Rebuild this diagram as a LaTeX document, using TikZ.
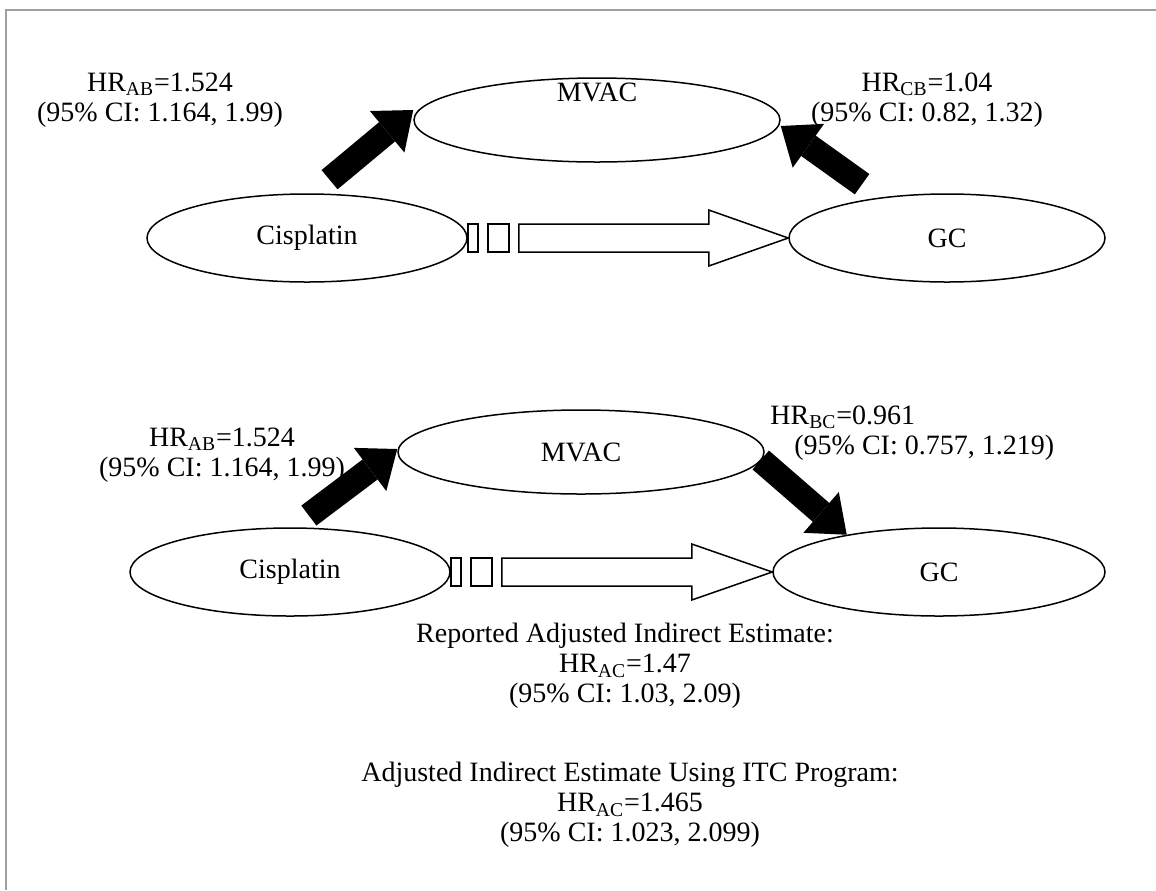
\documentclass[tikz,border=0pt]{standalone}
\usepackage{fontspec}
\setmainfont{Liberation Serif}
\usetikzlibrary{arrows.meta, shapes.geometric, positioning, backgrounds}
\definecolor{itFrame}{HTML}{A0A0A0}
\tikzset{
  txt/.style={font=\fontsize{14pt}{15pt}\selectfont},
  drug/.style={draw, ellipse, fill=white, line width=0.75pt, inner sep=0pt, txt},
  cisbox/.style={drug, minimum width=160pt, minimum height=44pt},
  mvacbox/.style={drug, minimum width=183pt, minimum height=42pt},
  gcbox/.style={drug, minimum width=158pt, minimum height=44pt},
  hrtag/.style={txt, align=center, inner sep=1pt},
  effect/.style={line width=12.5pt, -{Triangle[width=27pt, length=17pt, line width=0pt]}},
  itc/.style={draw, fill=white, line width=0.75pt, line join=miter}
}
% hollow arrow of the indirect comparison
\newcommand{\itcarrow}[2]{%
  \begin{scope}[shift={(#1.east)}]
    \draw[itc] (0,-14) rectangle (10,14) (20,-14) rectangle (41,14);
    \draw[itc] (51,-14) -- (241,-14) -- (241,-28) -- (#2.west) -- (241,28) -- (241,14) -- (51,14) -- cycle;
  \end{scope}}
\begin{document}
\begin{tikzpicture}[x=0.5pt, y=-0.5pt]
  \useasboundingbox (0,0) rectangle (1156,890);
  \draw[itFrame, line width=1pt] (6,890) -- (6,10) -- (1156,10);

  % trials as reported
  \node[cisbox] (cisA) at (307,238) {Cisplatin};
  \node[mvacbox, label={[txt, yshift=14pt]center:MVAC}] (mvacA) at (597,120) {};
  \node[gcbox] (gcA) at (947,238) {GC};
  \node[hrtag] (hrAB) at (160,100) {HR\textsubscript{AB}=1.524\\(95\% CI: 1.164, 1.99)};
  \node[hrtag] (hrCB) at (927,100) {HR\textsubscript{CB}=1.04\\(95\% CI: 0.82, 1.32)};
  \itcarrow{cisA}{gcA}

  % same trials, common comparator
  \node[cisbox] (cisB) at (290,572) {Cisplatin};
  \node[mvacbox] (mvacB) at (581,452) {MVAC};
  \node[gcbox, minimum width=166pt] (gcB) at (939,572) {GC};
  \node[hrtag] (hrAB2) at (222,455) {HR\textsubscript{AB}=1.524\\(95\% CI: 1.164, 1.99)};
  \node[hrtag, align=left, anchor=west] (hrBC) at (768,433) {HR\textsubscript{BC}=0.961\\\hspace*{12pt}(95\% CI: 0.757, 1.219)};
  \itcarrow{cisB}{gcB}

  \begin{scope}[on background layer]
    \draw[effect] ([yshift=7pt]cisA.63) -- ([yshift=5pt]mvacA.west);
    \draw[effect] ([yshift=8pt]gcA.156) -- ([yshift=-3pt]mvacA.east);
    \draw[effect] ([yshift=6pt]cisB.67) -- ([yshift=1.5pt]mvacB.west);
    \draw[effect] ([yshift=-4pt,xshift=-2pt]mvacB.east) -- (gcB.158);
  \end{scope}

  \node[hrtag] (reported) at (625,666) {Reported Adjusted Indirect Estimate:\\HR\textsubscript{AC}=1.47\\(95\% CI: 1.03, 2.09)};
  \node[hrtag] (itcest) at (630,805) {Adjusted Indirect Estimate Using ITC Program:\\HR\textsubscript{AC}=1.465\\(95\% CI: 1.023, 2.099)};
\end{tikzpicture}
\end{document}
